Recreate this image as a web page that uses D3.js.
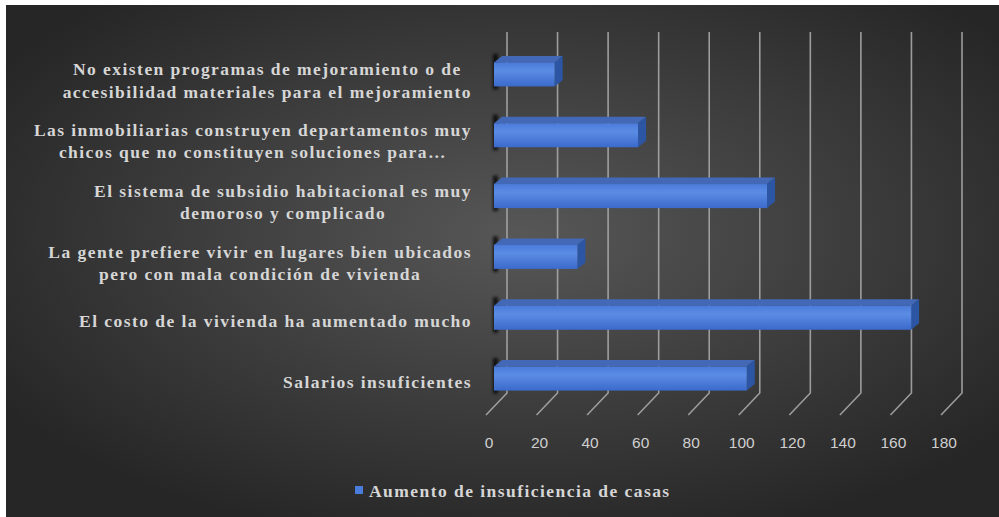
<!DOCTYPE html>
<html>
<head>
<meta charset="utf-8">
<script src="https://cdn.jsdelivr.net/npm/d3@7"></script>
<style>
  html, body { margin: 0; padding: 0; background: #ffffff; }
  svg { display: block; }
</style>
</head>
<body>
<svg id="chart" width="999" height="517"></svg>
<script>
// Reasons for the rise in housing shortage (top to bottom)
const categories = [
  ["No existen programas de mejoramiento o de", "accesibilidad materiales para el mejoramiento"],
  ["Las inmobiliarias construyen departamentos muy", "chicos que no constituyen soluciones para…"],
  ["El sistema de subsidio habitacional es muy", "demoroso y complicado"],
  ["La gente prefiere vivir en lugares bien ubicados", "pero con mala condición de vivienda"],
  ["El costo de la vivienda ha aumentado mucho"],
  ["Salarios insuficientes"]
];
const values = [24, 57, 108, 33, 165, 100];
const tickValues = [0, 20, 40, 60, 80, 100, 120, 140, 160, 180];
const seriesName = "Aumento de insuficiencia de casas";

const W = 999, H = 517;
const svg = d3.select("#chart");
const defs = svg.append("defs");

// Dark radial backdrop
const bg = defs.append("radialGradient").attr("id", "bg")
  .attr("cx", "52%").attr("cy", "45%").attr("r", "62%");
bg.append("stop").attr("offset", "0%").attr("stop-color", "#575757");
bg.append("stop").attr("offset", "100%").attr("stop-color", "#262626");

const front = defs.append("linearGradient").attr("id", "barFront")
  .attr("x1", 0).attr("y1", 0).attr("x2", 0).attr("y2", 1);
front.append("stop").attr("offset", "0%").attr("stop-color", "#4a7bdb");
front.append("stop").attr("offset", "35%").attr("stop-color", "#5b8ce4");
front.append("stop").attr("offset", "100%").attr("stop-color", "#3b6acb");

defs.append("filter").attr("id", "soft")
  .attr("x", "-200%").attr("y", "-50%").attr("width", "500%").attr("height", "200%")
  .append("feGaussianBlur").attr("stdDeviation", 1.6);

svg.append("rect").attr("x", 6).attr("y", 5).attr("width", W - 6).attr("height", H - 5)
  .attr("fill", "url(#bg)");

// 3D geometry: back wall and depth offsets
const wallX = 507, wallTop = 32, wallBottom = 393;
const floorDx = -21, floorDy = 22;       // wall -> front edge of floor
const barFrontDx = -13;                   // bar front face relative to wall
const sideDx = 8, sideDy = -6.5;          // bar depth (front -> back)

const x = d3.scaleLinear().domain([0, 180]).range([0, 455]);
const y = d3.scaleBand().domain(d3.range(categories.length))
  .range([44, 409]).paddingInner(0.605).paddingOuter(0.3025);

// Gridlines on the wall with floor diagonals
const grid = svg.append("g").attr("stroke", "#a8a8a8").attr("stroke-width", 1.6)
  .attr("fill", "none").attr("opacity", 0.9);
grid.selectAll("path").data(tickValues).join("path")
  .attr("d", d => {
    const gx = wallX + x(d);
    return `M${gx},${wallTop}L${gx},${wallBottom}L${gx + floorDx},${wallBottom + floorDy}`;
  });

// Bars
const bars = svg.append("g").selectAll("g").data(values).join("g");
const x0 = wallX + barFrontDx;
bars.each(function(v, i) {
  const g = d3.select(this);
  const top = y(i), h = y.bandwidth();
  const xr = x0 + x(v);
  // shadow at the base end of the bar
  g.append("path")
    .attr("d", `M${x0 - 1},${top + sideDy - 2}L${x0 + 4},${top + sideDy - 2}L${x0 + 4},${top + h + 3}L${x0 - 1},${top + h + 3}Z`)
    .attr("fill", "#000").attr("opacity", 0.75).attr("filter", "url(#soft)");
  g.append("path") // top face
    .attr("d", `M${x0},${top}L${xr},${top}L${xr + sideDx},${top + sideDy}L${x0 + sideDx},${top + sideDy}Z`)
    .attr("fill", "#4268b6");
  g.append("path") // end face
    .attr("d", `M${xr},${top}L${xr + sideDx},${top + sideDy}L${xr + sideDx},${top + h + sideDy}L${xr},${top + h}Z`)
    .attr("fill", "#2c56a4");
  g.append("rect") // front face
    .attr("x", x0).attr("y", top).attr("width", x(v)).attr("height", h)
    .attr("fill", "url(#barFront)");
});

// Value axis labels along the front edge of the floor
svg.append("g").selectAll("text").data(tickValues).join("text")
  .attr("x", d => wallX + x(d) + floorDx + 3)
  .attr("y", 448)
  .attr("text-anchor", "middle")
  .attr("font-family", "'Liberation Sans', Arial, sans-serif")
  .attr("font-size", 15.5)
  .attr("fill", "#cfcfcf")
  .text(d => d);

// Category labels: lines centred in a block right-aligned against the axis
const labelRight = 472, lineH = 22.4;
const labels = svg.append("g")
  .attr("font-family", "'Liberation Serif', 'Times New Roman', serif")
  .attr("font-weight", "bold")
  .attr("font-size", 17.5)
  .attr("letter-spacing", 1.45)
  .attr("fill", "#d6d6d6");
categories.forEach((lines, i) => {
  const cy = y(i) + y.bandwidth() / 2 + (lines.length === 1 ? 3 : 6);
  const t = labels.append("text");
  const spans = lines.map((s, k) => t.append("tspan")
    .attr("y", cy + (k - (lines.length - 1) / 2) * lineH + 6)
    .text(s));
  const widths = spans.map(sp => sp.node().getComputedTextLength());
  const bw = d3.max(widths);
  const centre = labelRight - bw / 2;
  spans.forEach(sp => sp.attr("x", centre).attr("text-anchor", "middle"));
});

// Legend
svg.append("rect").attr("x", 355).attr("y", 486).attr("width", 8).attr("height", 8)
  .attr("fill", "#4a7cdc");
svg.append("text").attr("x", 369).attr("y", 497)
  .attr("font-family", "'Liberation Serif', 'Times New Roman', serif")
  .attr("font-weight", "bold").attr("font-size", 17.5).attr("letter-spacing", 1.45)
  .attr("fill", "#d6d6d6")
  .text(seriesName);
</script>
</body>
</html>
